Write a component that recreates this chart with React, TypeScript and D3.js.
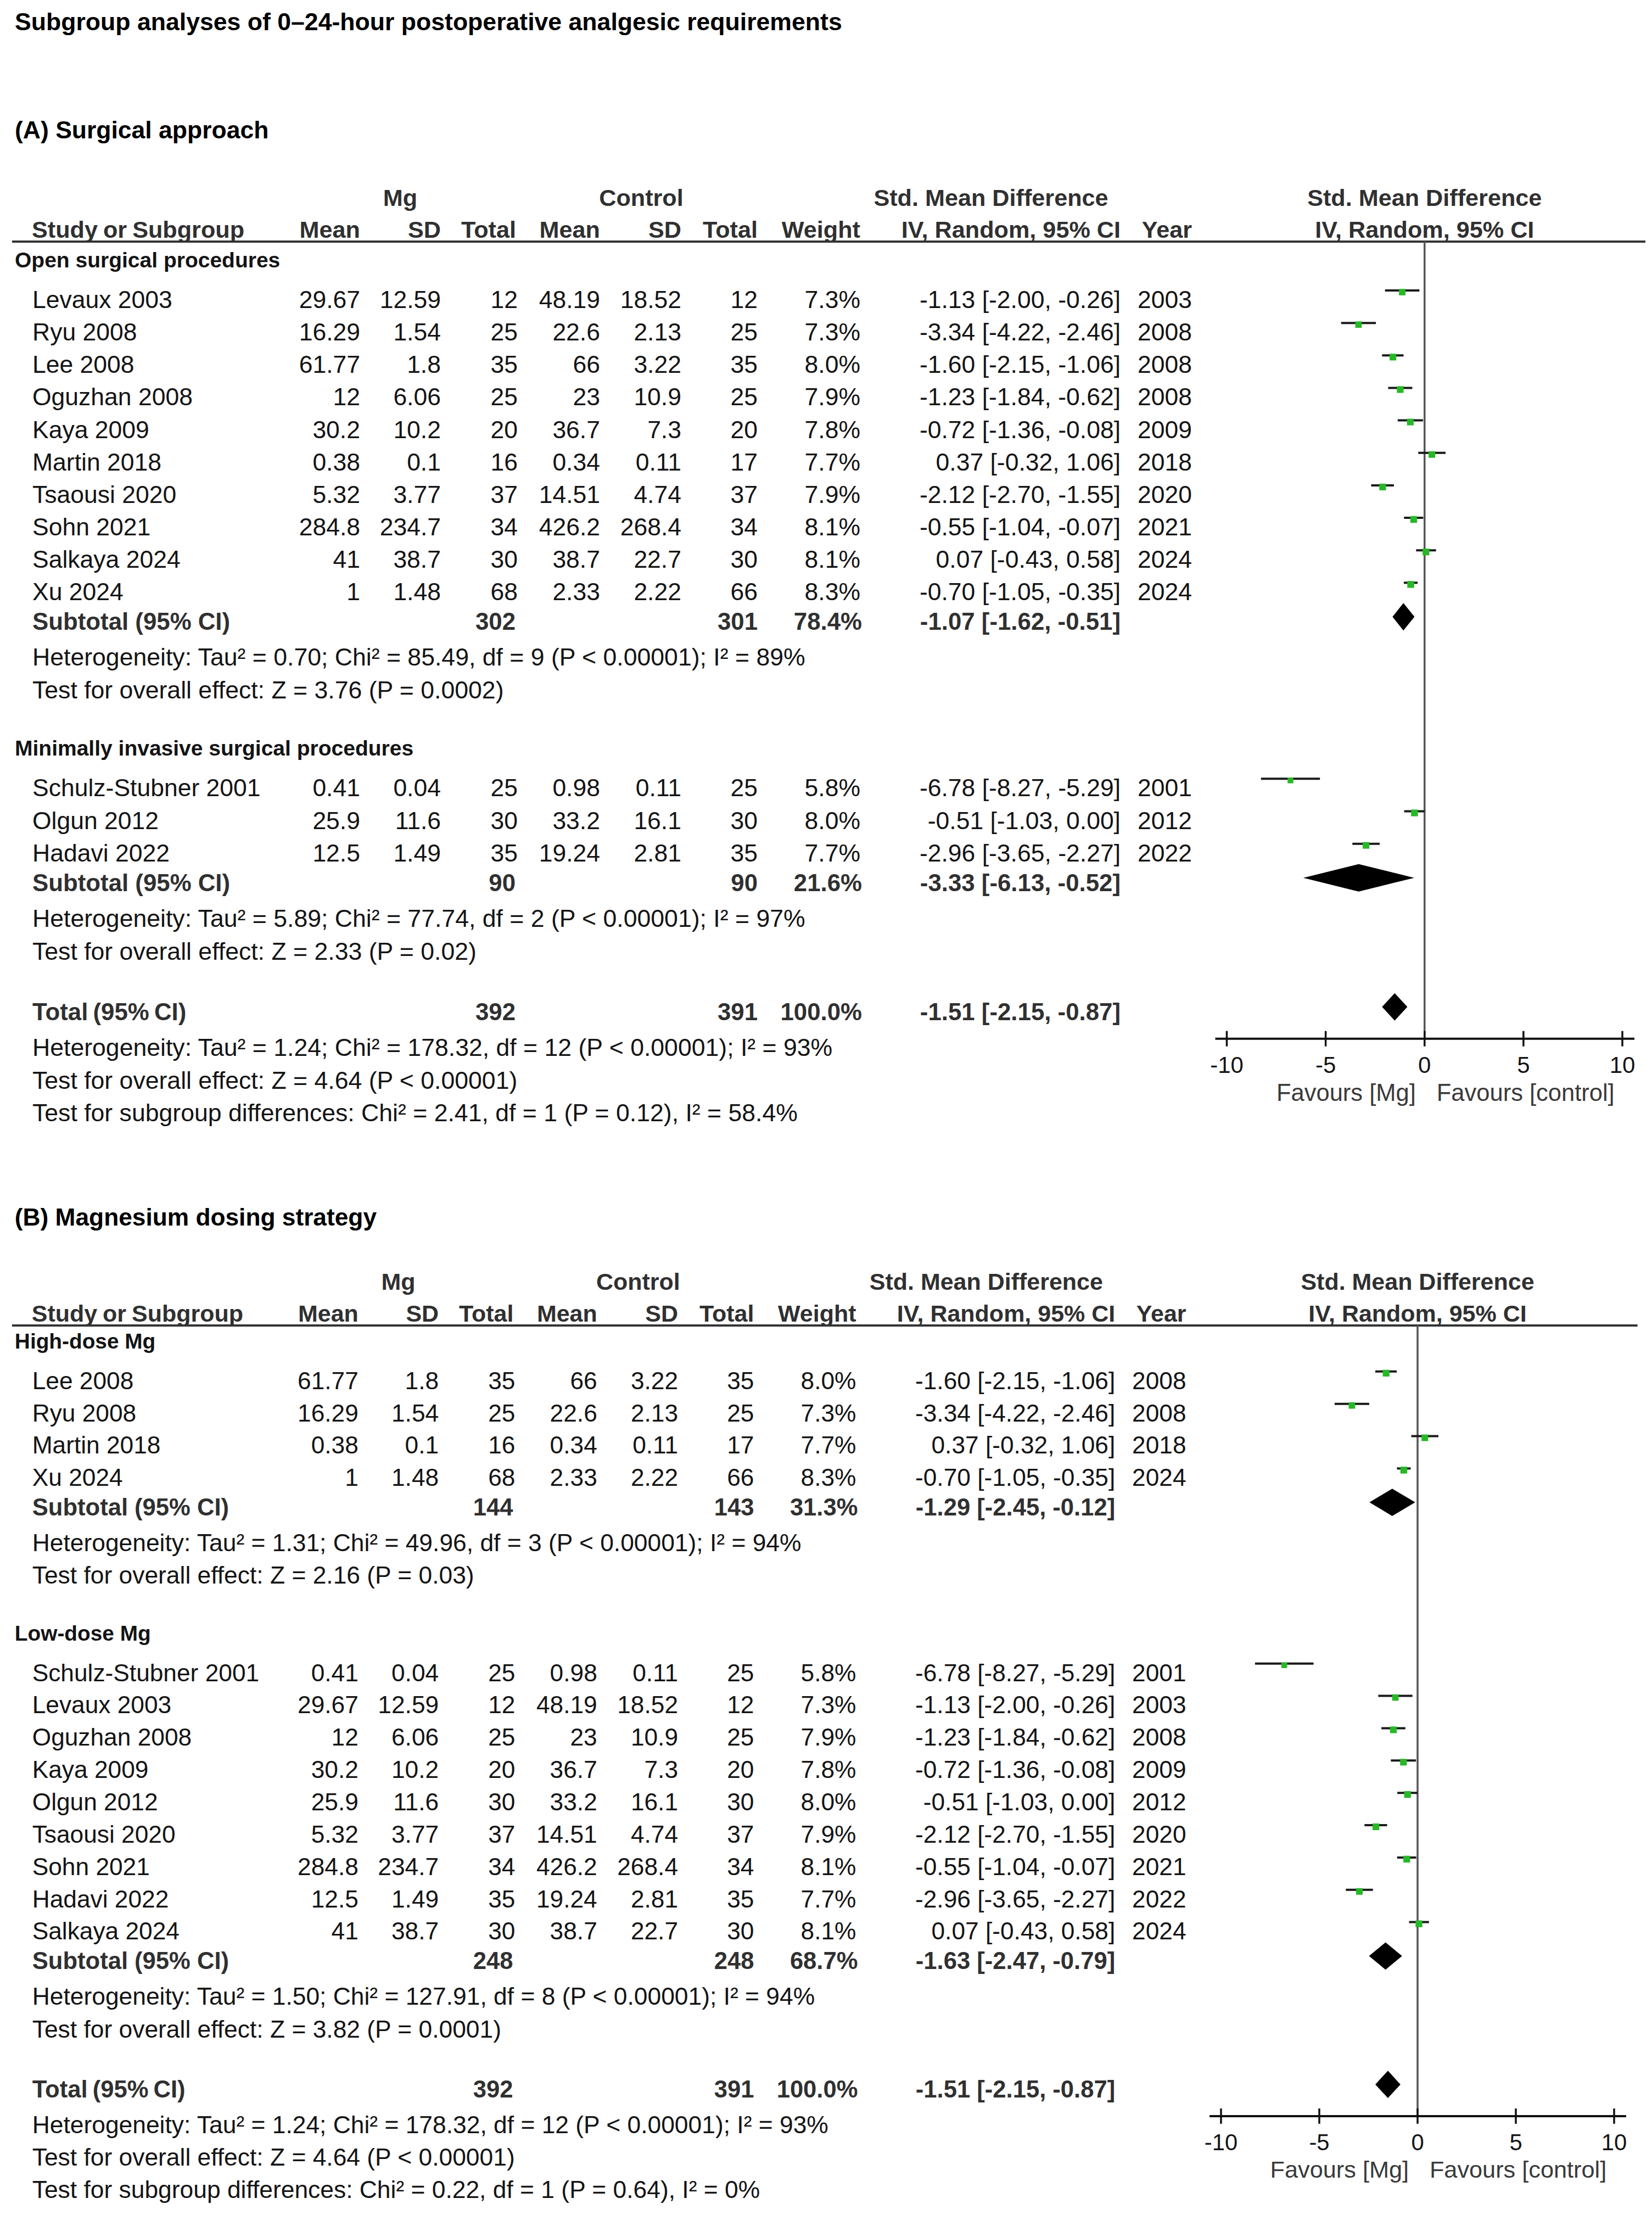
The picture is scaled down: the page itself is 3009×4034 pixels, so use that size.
import React from 'react';
import * as d3 from 'd3';

// ---------------- DATA ----------------
const studyNames = ['Levaux 2003', 'Ryu 2008', 'Lee 2008', 'Oguzhan 2008', 'Kaya 2009', 'Martin 2018', 'Tsaousi 2020', 'Sohn 2021', 'Salkaya 2024', 'Xu 2024', 'Schulz-Stubner 2001', 'Olgun 2012', 'Hadavi 2022'];
const mgMean = [29.67, 16.29, 61.77, 12, 30.2, 0.38, 5.32, 284.8, 41, 1, 0.41, 25.9, 12.5];
const mgSD = [12.59, 1.54, 1.8, 6.06, 10.2, 0.1, 3.77, 234.7, 38.7, 1.48, 0.04, 11.6, 1.49];
const mgTotal = [12, 25, 35, 25, 20, 16, 37, 34, 30, 68, 25, 30, 35];
const ctrlMean = [48.19, 22.6, 66, 23, 36.7, 0.34, 14.51, 426.2, 38.7, 2.33, 0.98, 33.2, 19.24];
const ctrlSD = [18.52, 2.13, 3.22, 10.9, 7.3, 0.11, 4.74, 268.4, 22.7, 2.22, 0.11, 16.1, 2.81];
const ctrlTotal = [12, 25, 35, 25, 20, 17, 37, 34, 30, 66, 25, 30, 35];
const weightPct = [7.3, 7.3, 8.0, 7.9, 7.8, 7.7, 7.9, 8.1, 8.1, 8.3, 5.8, 8.0, 7.7];
const smd = [-1.13, -3.34, -1.6, -1.23, -0.72, 0.37, -2.12, -0.55, 0.07, -0.7, -6.78, -0.51, -2.96];
const ciLow = [-2.0, -4.22, -2.15, -1.84, -1.36, -0.32, -2.7, -1.04, -0.43, -1.05, -8.27, -1.03, -3.65];
const ciHigh = [-0.26, -2.46, -1.06, -0.62, -0.08, 1.06, -1.55, -0.07, 0.58, -0.35, -5.29, 0.0, -2.27];
const studyYear = [2003, 2008, 2008, 2008, 2009, 2018, 2020, 2021, 2024, 2024, 2001, 2012, 2022];

const chartTitle = 'Subgroup analyses of 0\u201324-hour postoperative analgesic requirements';

// Panel A
const panelATitle = '(A) Surgical approach';
const panelAGroups = ['Open surgical procedures', 'Minimally invasive surgical procedures'];
const panelAMembers = [[0, 1, 2, 3, 4, 5, 6, 7, 8, 9], [10, 11, 12]];
const panelASubMg = [302, 90];
const panelASubCtrl = [301, 90];
const panelASubWeight = [78.4, 21.6];
const panelASubSmd = [-1.07, -3.33];
const panelASubLow = [-1.62, -6.13];
const panelASubHigh = [-0.51, -0.52];
const panelAHet = [
  'Heterogeneity: Tau\u00b2 = 0.70; Chi\u00b2 = 85.49, df = 9 (P < 0.00001); I\u00b2 = 89%',
  'Heterogeneity: Tau\u00b2 = 5.89; Chi\u00b2 = 77.74, df = 2 (P < 0.00001); I\u00b2 = 97%',
];
const panelAZ = ['Test for overall effect: Z = 3.76 (P = 0.0002)', 'Test for overall effect: Z = 2.33 (P = 0.02)'];
const panelASubgroupTest = 'Test for subgroup differences: Chi\u00b2 = 2.41, df = 1 (P = 0.12), I\u00b2 = 58.4%';

// Panel B
const panelBTitle = '(B) Magnesium dosing strategy';
const panelBGroups = ['High-dose Mg', 'Low-dose Mg'];
const panelBMembers = [[2, 1, 5, 9], [10, 0, 3, 4, 11, 6, 7, 12, 8]];
const panelBSubMg = [144, 248];
const panelBSubCtrl = [143, 248];
const panelBSubWeight = [31.3, 68.7];
const panelBSubSmd = [-1.29, -1.63];
const panelBSubLow = [-2.45, -2.47];
const panelBSubHigh = [-0.12, -0.79];
const panelBHet = [
  'Heterogeneity: Tau\u00b2 = 1.31; Chi\u00b2 = 49.96, df = 3 (P < 0.00001); I\u00b2 = 94%',
  'Heterogeneity: Tau\u00b2 = 1.50; Chi\u00b2 = 127.91, df = 8 (P < 0.00001); I\u00b2 = 94%',
];
const panelBZ = ['Test for overall effect: Z = 2.16 (P = 0.03)', 'Test for overall effect: Z = 3.82 (P = 0.0001)'];
const panelBSubgroupTest = 'Test for subgroup differences: Chi\u00b2 = 0.22, df = 1 (P = 0.64), I\u00b2 = 0%';

// Overall
const totalMg = 392;
const totalCtrl = 391;
const totalWeight = 100.0;
const totalSmd = -1.51;
const totalLow = -2.15;
const totalHigh = -0.87;
const totalHet = 'Heterogeneity: Tau\u00b2 = 1.24; Chi\u00b2 = 178.32, df = 12 (P < 0.00001); I\u00b2 = 93%';
const totalZ = 'Test for overall effect: Z = 4.64 (P < 0.00001)';

const axisTicks = [-10, -5, 0, 5, 10];
const axisDomain = [-10, 10];
const favoursLeft = 'Favours [Mg]';
const favoursRight = 'Favours [control]';

// ---------------- LAYOUT ----------------
const W = 3009;
const H = 4034;
const FONT = "'Liberation Sans', Arial, Helvetica, sans-serif";
const TEXT = '#141414';
const HEAD = '#303030';
const GREEN = '#27b827';

const panelData = [
  { title: panelATitle, groups: panelAGroups, members: panelAMembers, subMg: panelASubMg, subCtrl: panelASubCtrl, subW: panelASubWeight, subSmd: panelASubSmd, subLo: panelASubLow, subHi: panelASubHigh, het: panelAHet, z: panelAZ, sgTest: panelASubgroupTest },
  { title: panelBTitle, groups: panelBGroups, members: panelBMembers, subMg: panelBSubMg, subCtrl: panelBSubCtrl, subW: panelBSubWeight, subSmd: panelBSubSmd, subLo: panelBSubLow, subHi: panelBSubHigh, het: panelBHet, z: panelBZ, sgTest: panelBSubgroupTest },
];

const panelLayout = [
  { titleY: 252, hdr2Y: 433, rowsStart: 487, s: 1, xRange: [2234.5, 2955] },
  { titleY: 2232, hdr2Y: 2407, rowsStart: 2456, s: 0.9952, xRange: [2224, 2940] },
];

const fmtW = (v: number) => v.toFixed(1) + '%';
const fmtCI = (m: number, lo: number, hi: number) => `${m.toFixed(2)} [${lo.toFixed(2)}, ${hi.toFixed(2)}]`;

type Row = { kind: string; y: number; i?: number; text?: string };

function buildRows(p: any, L: any): Row[] {
  const s = L.s;
  const rows: Row[] = [];
  let y = L.rowsStart;
  p.groups.forEach((g: string, gi: number) => {
    if (gi > 0) y += 104 * s;
    rows.push({ kind: 'group', y, text: g });
    y += 74 * s;
    p.members[gi].forEach((m: number, k: number) => {
      if (k > 0) y += 59.15 * s;
      rows.push({ kind: 'study', y, i: m });
    });
    y += 54 * s;
    rows.push({ kind: 'subtotal', y, i: gi });
    y += 65 * s;
    rows.push({ kind: 'note', y, text: p.het[gi] });
    y += 60 * s;
    rows.push({ kind: 'note', y, text: p.z[gi] });
  });
  y += 110 * s;
  rows.push({ kind: 'total', y });
  y += 65 * s;
  rows.push({ kind: 'note', y, text: totalHet });
  y += 60 * s;
  rows.push({ kind: 'note', y, text: totalZ });
  y += 59 * s;
  rows.push({ kind: 'note', y, text: p.sgTest });
  return rows;
}

function Panel({ p, L }: { p: any; L: any }) {
  const s = L.s;
  const x = d3.scaleLinear().domain(axisDomain).range(L.xRange);
  const sq = d3.scaleSqrt().domain([0, 8.3]).range([0, 12.5]);
  const col = {
    name: 59 * s,
    group: 27 * s,
    mgMean: 656 * s,
    mgSD: 803 * s,
    mgTotal: 943 * s,
    cMean: 1093 * s,
    cSD: 1241 * s,
    cTotal: 1380 * s,
    weight: 1567 * s,
    ci: 2041 * s,
    year: 2171 * s,
  };
  const fsBody = 44.5 * s;
  const fsNote = 44.6 * s;
  const fsBold = 43.8 * s;
  const fsHead = 43.2 * s;
  const fsGroup = 39 * s;
  const rows = buildRows(p, L);
  const totalRow = rows.find((r) => r.kind === 'total')!;
  const lineY = L.hdr2Y + 7 * s;
  const hdr1Y = L.hdr2Y - 58 * s;
  const axisY = totalRow.y + 34 * s;
  const x0 = x(0);
  const tickLen = 14 * s;

  const rt = (xx: number, y: number, t: string | number, bold = false, fs = fsBody, fill = TEXT) => (
    <text x={xx} y={y} textAnchor="end" fontSize={fs} fontWeight={bold ? 'bold' : 'normal'} fill={fill}>{t}</text>
  );

  const diamond = (m: number, lo: number, hi: number, cy: number) => {
    const h = 25 * s;
    const pts: [number, number][] = [[x(lo), cy], [x(m), cy - h], [x(hi), cy], [x(m), cy + h]];
    return <path d={d3.line()(pts)! + 'Z'} fill="#000" />;
  };

  return (
    <g fontFamily={FONT}>
      <text x={27 * s} y={L.titleY} fontSize={44.5 * s} fontWeight="bold" fill="#000">{p.title}</text>
      {/* header row 1 */}
      <text x={729 * s} y={hdr1Y} textAnchor="middle" fontSize={fsHead} fontWeight="bold" fill={HEAD}>Mg</text>
      <text x={1168 * s} y={hdr1Y} textAnchor="middle" fontSize={fsHead} fontWeight="bold" fill={HEAD}>Control</text>
      <text x={1805 * s} y={hdr1Y} textAnchor="middle" fontSize={fsHead} fontWeight="bold" fill={HEAD}>Std. Mean Difference</text>
      <text x={x0} y={hdr1Y} textAnchor="middle" fontSize={fsHead} fontWeight="bold" fill={HEAD}>Std. Mean Difference</text>
      {/* header row 2 */}
      <text x={58 * s} y={L.hdr2Y} fontSize={fsHead} fontWeight="bold" fill={HEAD} wordSpacing={-2}>Study or Subgroup</text>
      {rt(col.mgMean, L.hdr2Y, 'Mean', true, fsHead, HEAD)}
      {rt(col.mgSD, L.hdr2Y, 'SD', true, fsHead, HEAD)}
      {rt(col.mgTotal - 3 * s, L.hdr2Y, 'Total', true, fsHead, HEAD)}
      {rt(col.cMean, L.hdr2Y, 'Mean', true, fsHead, HEAD)}
      {rt(col.cSD, L.hdr2Y, 'SD', true, fsHead, HEAD)}
      {rt(col.cTotal, L.hdr2Y, 'Total', true, fsHead, HEAD)}
      {rt(col.weight, L.hdr2Y, 'Weight', true, fsHead, HEAD)}
      {rt(col.ci, L.hdr2Y, 'IV, Random, 95% CI', true, fsHead, HEAD)}
      {rt(col.year, L.hdr2Y, 'Year', true, fsHead, HEAD)}
      <text x={x0} y={L.hdr2Y} textAnchor="middle" fontSize={fsHead} fontWeight="bold" fill={HEAD}>IV, Random, 95% CI</text>
      <line x1={22 * s} x2={2997 * s} y1={lineY} y2={lineY} stroke="#333" strokeWidth={4} />
      {/* zero line */}
      <line x1={x0} x2={x0} y1={lineY} y2={axisY} stroke="#555" strokeWidth={3.5} />

      {rows.map((r, k) => {
        if (r.kind === 'group') {
          return <text key={k} x={col.group} y={r.y} fontSize={fsGroup} fontWeight="bold" fill={TEXT}>{r.text}</text>;
        }
        if (r.kind === 'note') {
          return <text key={k} x={col.name} y={r.y} fontSize={fsNote} fill={TEXT}>{r.text}</text>;
        }
        if (r.kind === 'study') {
          const i = r.i!;
          const ly = r.y - 32 * s;
          const size = sq(weightPct[i]);
          return (
            <g key={k}>
              <text x={col.name} y={r.y} fontSize={fsBody} fill={TEXT}>{studyNames[i]}</text>
              {rt(col.mgMean, r.y, mgMean[i])}
              {rt(col.mgSD, r.y, mgSD[i])}
              {rt(col.mgTotal, r.y, mgTotal[i])}
              {rt(col.cMean, r.y, ctrlMean[i])}
              {rt(col.cSD, r.y, ctrlSD[i])}
              {rt(col.cTotal, r.y, ctrlTotal[i])}
              {rt(col.weight, r.y, fmtW(weightPct[i]))}
              {rt(col.ci, r.y, fmtCI(smd[i], ciLow[i], ciHigh[i]))}
              {rt(col.year, r.y, studyYear[i])}
              <line x1={x(ciLow[i])} x2={x(ciHigh[i])} y1={ly} y2={ly} stroke="#1a1a1a" strokeWidth={4} />
              <rect x={x(smd[i]) - size / 2} y={ly - size / 2 + 3} width={size} height={size} fill={GREEN} />
            </g>
          );
        }
        if (r.kind === 'subtotal') {
          const gi = r.i!;
          return (
            <g key={k}>
              <text x={col.name} y={r.y} fontSize={fsBold} fontWeight="bold" fill={HEAD}>Subtotal (95% CI)</text>
              {rt(col.mgTotal - 4 * s, r.y, p.subMg[gi], true, fsBold, HEAD)}
              {rt(col.cTotal, r.y, p.subCtrl[gi], true, fsBold, HEAD)}
              {rt(col.weight + 3 * s, r.y, fmtW(p.subW[gi]), true, fsBold, HEAD)}
              {rt(col.ci, r.y, fmtCI(p.subSmd[gi], p.subLo[gi], p.subHi[gi]), true, fsBold, HEAD)}
              {diamond(p.subSmd[gi], p.subLo[gi], p.subHi[gi], r.y - 24 * s)}
            </g>
          );
        }
        if (r.kind === 'total') {
          return (
            <g key={k}>
              <text x={col.name} y={r.y} fontSize={fsBold} fontWeight="bold" fill={HEAD} wordSpacing={-3}>Total (95% CI)</text>
              {rt(col.mgTotal - 4 * s, r.y, totalMg, true, fsBold, HEAD)}
              {rt(col.cTotal, r.y, totalCtrl, true, fsBold, HEAD)}
              {rt(col.weight + 3 * s, r.y, fmtW(totalWeight), true, fsBold, HEAD)}
              {rt(col.ci, r.y, fmtCI(totalSmd, totalLow, totalHigh), true, fsBold, HEAD)}
              {diamond(totalSmd, totalLow, totalHigh, r.y - 24 * s)}
            </g>
          );
        }
        return null;
      })}

      {/* axis */}
      <line x1={x(axisDomain[0]) - 21 * s} x2={x(axisDomain[1]) + 22 * s} y1={axisY} y2={axisY} stroke="#111" strokeWidth={4} />
      {axisTicks.map((t) => (
        <g key={t}>
          <line x1={x(t)} x2={x(t)} y1={axisY - tickLen} y2={axisY + tickLen} stroke="#111" strokeWidth={3.5} />
          <text x={x(t)} y={axisY + 62 * s} textAnchor="middle" fontSize={42 * s} fill={TEXT}>{t}</text>
        </g>
      ))}
      <text x={x0 - 16 * s} y={axisY + 113 * s} textAnchor="end" fontSize={43.5 * s} fill="#3a3a3a">{favoursLeft}</text>
      <text x={x0 + 22 * s} y={axisY + 113 * s} textAnchor="start" fontSize={43.5 * s} fill="#3a3a3a">{favoursRight}</text>
    </g>
  );
}

export default function App() {
  return (
    <div style={{ position: 'absolute', left: 0, top: 0, width: W, height: H, background: '#fff' }}>
      <svg width={W} height={H} viewBox={`0 0 ${W} ${H}`} style={{ display: 'block' }}>
        <rect x={0} y={0} width={W} height={H} fill="#fff" />
        <text x={27} y={55} fontFamily={FONT} fontSize={44.6} fontWeight="bold" fill="#000">{chartTitle}</text>
        {panelData.map((p, i) => (
          <Panel key={i} p={p} L={panelLayout[i]} />
        ))}
      </svg>
    </div>
  );
}
